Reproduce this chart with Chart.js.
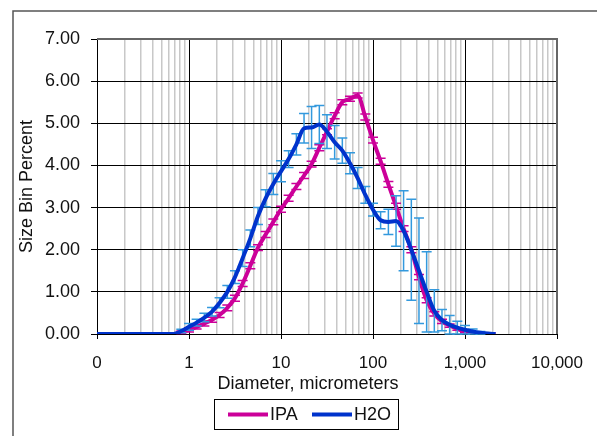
<!DOCTYPE html>
<html>
<head>
<meta charset="utf-8">
<script src="https://cdn.jsdelivr.net/npm/chart.js@4.4.1/dist/chart.umd.min.js"></script>
<style>
  html, body { margin: 0; padding: 0; background: #fff; }
  #wrap { position: relative; width: 597px; height: 436px; }
</style>
</head>
<body>
<div id="wrap"><canvas id="myChart" width="597" height="436"></canvas></div>
<script>
// bin diameters, micrometers
var diameters = [0.1, 0.121, 0.147, 0.178, 0.215, 0.261, 0.316, 0.383, 0.464, 0.562,
    0.681, 0.825, 1.0, 1.21, 1.47, 1.78, 2.15, 2.61, 3.16, 3.83,
    4.64, 5.62, 6.81, 8.25, 10, 12.1, 14.7, 17.8, 21.5, 26.1,
    31.6, 38.3, 46.4, 56.2, 68.1, 82.5, 100, 121, 147, 178,
    215, 261, 316, 383, 464, 562, 681, 825, 1000, 1210,
    1470, 1780, 2150];

// size bin percent, IPA
var ipaValues = [0, 0, 0, 0, 0, 0, 0, 0, 0, 0,
    0, 0.04, 0.1, 0.17, 0.25, 0.34, 0.45, 0.62, 0.85, 1.2,
    1.62, 2.05, 2.36, 2.66, 2.96, 3.22, 3.5, 3.76, 4.03, 4.42,
    4.8, 5.18, 5.5, 5.58, 5.66, 5.15, 4.6, 4.1, 3.55, 3.03,
    2.5, 2.0, 1.35, 0.8, 0.48, 0.3, 0.2, 0.12, 0.05, 0,
    0, 0, 0];
var ipaErr = [0, 0, 0, 0, 0, 0, 0, 0, 0, 0,
    0, 0.03, 0.05, 0.05, 0.06, 0.06, 0.06, 0.07, 0.07, 0.07,
    0.07, 0.07, 0.07, 0.07, 0.07, 0.07, 0.07, 0.07, 0.07, 0.07,
    0.07, 0.07, 0.06, 0.06, 0.06, 0.07, 0.07, 0.07, 0.07, 0.07,
    0.07, 0.07, 0.06, 0.06, 0.05, 0.05, 0.04, 0.03, 0.02, 0,
    0, 0, 0];

// size bin percent, H2O
var h2oValues = [0, 0, 0, 0, 0, 0, 0, 0, 0, 0,
    0, 0.07, 0.17, 0.27, 0.39, 0.53, 0.74, 1.0, 1.35, 1.8,
    2.27, 2.8, 3.22, 3.56, 3.86, 4.15, 4.5, 4.88, 4.9, 4.97,
    4.8, 4.55, 4.35, 4.05, 3.7, 3.3, 2.95, 2.7, 2.66, 2.68,
    2.45, 2.0, 1.5, 1.0, 0.55, 0.33, 0.22, 0.15, 0.1, 0.06,
    0.03, 0.01, 0];
var h2oErr = [0, 0, 0, 0, 0, 0, 0, 0, 0, 0,
    0, 0.04, 0.08, 0.08, 0.1, 0.1, 0.12, 0.15, 0.15, 0.2,
    0.2, 0.2, 0.2, 0.25, 0.25, 0.2, 0.25, 0.35, 0.5, 0.45,
    0.4, 0.4, 0.3, 0.25, 0.25, 0.2, 0.15, 0.2, 0.3, 0.6,
    0.95, 1.2, 1.25, 0.95, 0.5, 0.25, 0.22, 0.15, 0.1, 0.06,
    0.03, 0, 0];

var xTickLabels = {0.1: '0', 1: '1', 10: '10', 100: '100', 1000: '1,000', 10000: '10,000'};
var seriesNames = ['IPA', 'H2O'];
var lineColors = ['#cc0099', '#0033cc'];
var errColors = ['#cc0099', '#3399dd'];

var FONT = '"Liberation Sans", Arial, sans-serif';
var TEXT = '#111111';

function toPoints(xs, ys) {
    let pts = [];
    for (let i = 0; i < xs.length; ++i) {
        pts.push({x: xs[i], y: ys[i]});
    }
    return pts;
}

function isDecade(v) {
    let l = Math.log10(v);
    return Math.abs(l - Math.round(l)) < 1e-6;
}

// error bars, drawn just before each series line
const errorBars = {
    id: 'errorBars',
    beforeDatasetDraw(chart, args) {
        const ds = chart.data.datasets[args.index];
        const errs = ds.errors;
        const xs = chart.scales.x, ys = chart.scales.y;
        const ctx = chart.ctx;
        ctx.save();
        ctx.strokeStyle = ds.errColor;
        ctx.lineWidth = 1.5;
        for (let i = 0; i < ds.data.length; ++i) {
            if (!errs[i]) continue;
            const px = xs.getPixelForValue(ds.data[i].x);
            const top = ys.getPixelForValue(ds.data[i].y + errs[i]);
            const bot = ys.getPixelForValue(Math.max(0, ds.data[i].y - errs[i]));
            ctx.beginPath();
            ctx.moveTo(px, top); ctx.lineTo(px, bot);
            ctx.moveTo(px - 5, top); ctx.lineTo(px + 5, top);
            ctx.moveTo(px - 5, bot); ctx.lineTo(px + 5, bot);
            ctx.stroke();
        }
        ctx.restore();
    }
};

// frame, plot border, axis titles and legend box
const decorations = {
    id: 'decorations',
    beforeDraw(chart) {
        const ctx = chart.ctx;
        ctx.save();
        ctx.strokeStyle = '#555';
        ctx.lineWidth = 1.5;
        ctx.beginPath();
        ctx.moveTo(13, 436); ctx.lineTo(13, 11); ctx.lineTo(597, 11);
        ctx.stroke();
        ctx.restore();
    },
    afterDraw(chart) {
        const ctx = chart.ctx;
        const a = chart.chartArea;
        ctx.save();
        ctx.strokeStyle = '#666';
        ctx.lineWidth = 2;
        ctx.beginPath();
        ctx.moveTo(a.left, a.top); ctx.lineTo(a.right, a.top); ctx.lineTo(a.right, a.bottom);
        ctx.stroke();

        ctx.fillStyle = TEXT;
        ctx.font = '18px ' + FONT;
        ctx.textAlign = 'center';
        ctx.textBaseline = 'middle';
        ctx.fillText('Diameter, micrometers', 308, 384);
        ctx.save();
        ctx.translate(27, (a.top + a.bottom) / 2);
        ctx.rotate(-Math.PI / 2);
        ctx.fillText('Size Bin Percent', 0, 0);
        ctx.restore();

        // legend
        ctx.strokeStyle = '#000';
        ctx.lineWidth = 1;
        ctx.strokeRect(214.5, 399.5, 184, 30);
        const items = [[228, 268, 270], [312, 352, 354]];
        for (let i = 0; i < items.length; ++i) {
            ctx.strokeStyle = lineColors[i];
            ctx.lineWidth = 4;
            ctx.beginPath();
            ctx.moveTo(items[i][0], 414.5); ctx.lineTo(items[i][1], 414.5);
            ctx.stroke();
            ctx.textAlign = 'left';
            ctx.fillText(seriesNames[i], items[i][2], 415);
        }
        ctx.restore();
    }
};

const config = {
    type: 'line',
    data: {
        datasets: [{
            label: seriesNames[0],
            data: toPoints(diameters, ipaValues),
            errors: ipaErr,
            errColor: errColors[0],
            borderColor: lineColors[0],
            borderWidth: 4,
            pointRadius: 0,
            cubicInterpolationMode: 'monotone',
            fill: false,
            order: 1
        }, {
            label: seriesNames[1],
            data: toPoints(diameters, h2oValues),
            errors: h2oErr,
            errColor: errColors[1],
            borderColor: lineColors[1],
            borderWidth: 4,
            pointRadius: 0,
            cubicInterpolationMode: 'monotone',
            fill: false,
            order: 0
        }]
    },
    options: {
        responsive: false,
        animation: false,
        layout: { padding: { left: 0, top: 39, right: 38, bottom: 0 } },
        plugins: { legend: { display: false }, tooltip: { enabled: false } },
        scales: {
            x: {
                type: 'logarithmic',
                min: 0.1,
                max: 10000,
                afterFit(s) { s.height = 102; },
                afterBuildTicks(s) {
                    // one tick per integer multiple of each decade
                    let t = [];
                    for (let d = 0.1; d < 10000; d *= 10) {
                        for (let m = 1; m < 10; ++m) t.push({value: +(m * d).toPrecision(3)});
                    }
                    t.push({value: 10000});
                    s.ticks = t;
                },
                grid: {
                    color: (c) => isDecade(c.tick.value) ? '#000' : '#c8c8c8',
                    lineWidth: (c) => isDecade(c.tick.value) ? 1 : 1.5,
                    tickColor: (c) => isDecade(c.tick.value) ? '#000' : 'rgba(0,0,0,0)',
                    tickLength: 5
                },
                border: { color: '#000', width: 1 },
                ticks: {
                    autoSkip: false,
                    maxRotation: 0,
                    padding: 14,
                    color: TEXT,
                    font: { family: FONT, size: 17 },
                    callback: (v) => xTickLabels[v] !== undefined ? xTickLabels[v] : ''
                }
            },
            y: {
                min: 0,
                max: 7,
                afterFit(s) { s.width = 97; },
                grid: { color: '#000', lineWidth: 1, tickLength: 6 },
                border: { color: '#000', width: 1 },
                ticks: {
                    stepSize: 1,
                    padding: 11,
                    color: TEXT,
                    font: { family: FONT, size: 18 },
                    callback: (v) => v.toFixed(2)
                }
            }
        }
    },
    plugins: [errorBars, decorations]
};

const rendering = document.getElementById('myChart').getContext('2d');
const renderingChart = new Chart(rendering, config);
</script>
</body>
</html>
